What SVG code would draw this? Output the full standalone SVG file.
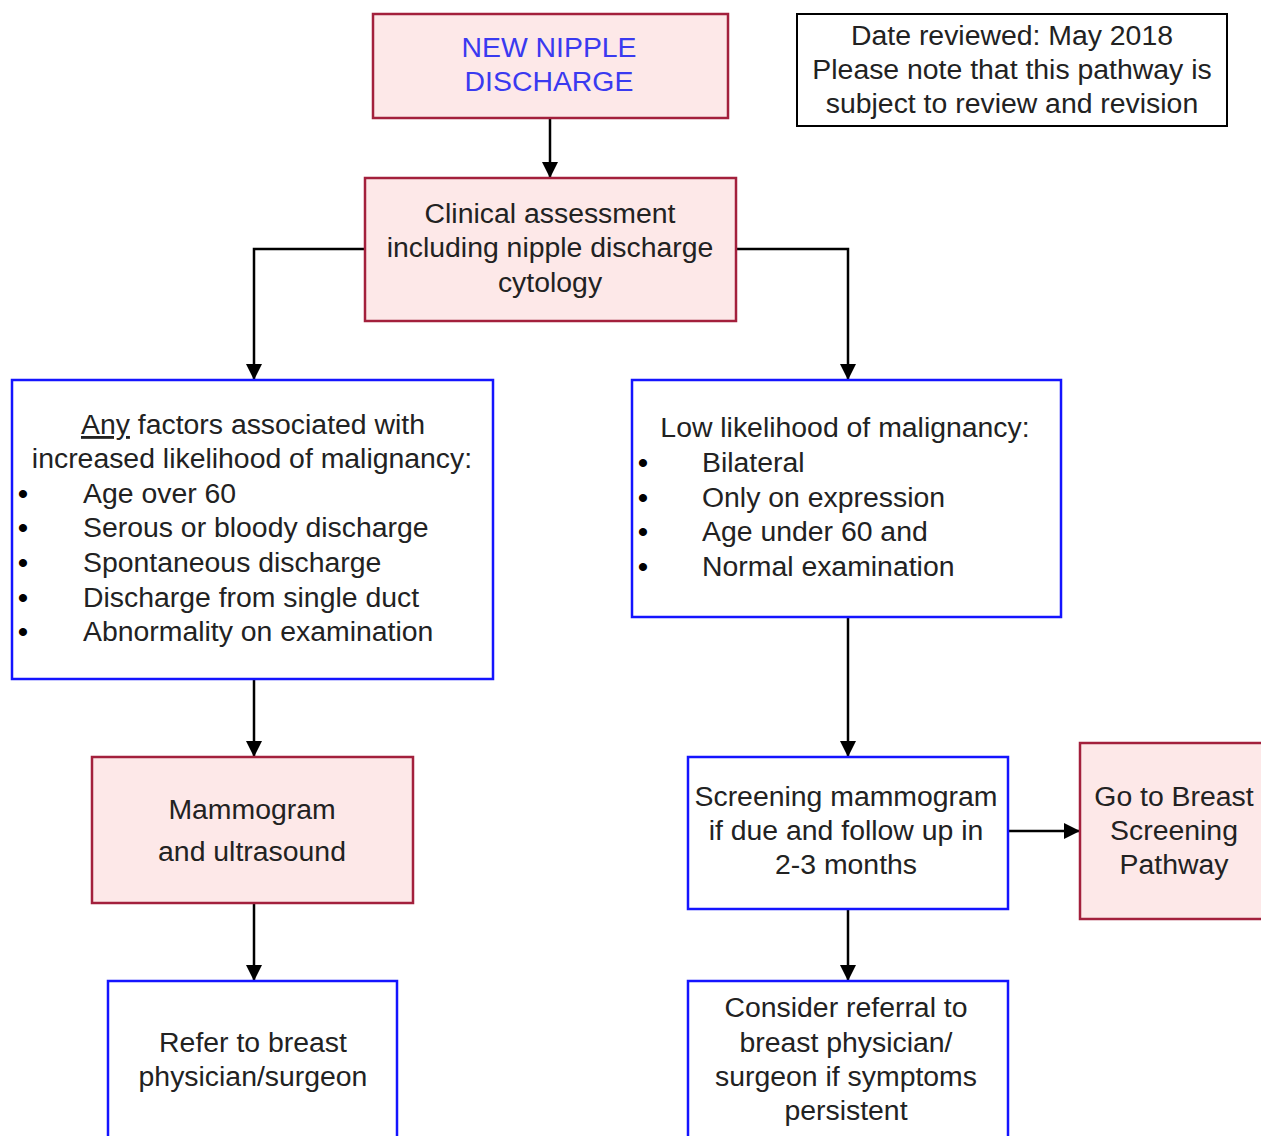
<svg xmlns="http://www.w3.org/2000/svg" width="1261" height="1136" viewBox="0 0 1261 1136">
<defs>
<marker id="ah" markerWidth="16" markerHeight="18" refX="15" refY="9" orient="auto" markerUnits="userSpaceOnUse">
<path d="M0,1 L16,9 L0,17 Z" fill="#000"/>
</marker>
<style>
.pink{fill:#fde8e8;stroke:#a3203c;stroke-width:2.5}
.blue{fill:#fff;stroke:#1414ff;stroke-width:2.5}
.black{fill:#fff;stroke:#000;stroke-width:2}
text{font-family:"Liberation Sans",Arial,sans-serif;font-size:28.4px;fill:#222}
.c{text-anchor:middle}
.title{fill:#3a3af0}
.b{font-weight:bold;fill:#000}
.conn{fill:none;stroke:#000;stroke-width:2.5;marker-end:url(#ah)}
</style>
</defs>
<rect width="1261" height="1136" fill="#fff"/>
<g id="connectors">
<path class="conn" d="M550,118 V177"/>
<path class="conn" d="M365,249 H254 V379"/>
<path class="conn" d="M736,249 H848 V379"/>
<path class="conn" d="M254,679 V756"/>
<path class="conn" d="M848,617 V756"/>
<path class="conn" d="M254,903 V980"/>
<path class="conn" d="M848,909 V980"/>
<path class="conn" d="M1008,831 H1079"/>
</g>
<g id="new-nipple-discharge">
<rect class="pink" x="373" y="14" width="355" height="104"/>
<text class="c title" x="549" y="57">NEW NIPPLE</text>
<text class="c title" x="549" y="91">DISCHARGE</text>
</g>
<g id="date-note">
<rect class="black" x="797" y="14" width="430" height="112"/>
<text class="c" x="1012" y="45">Date reviewed: May 2018</text>
<text class="c" x="1012" y="79">Please note that this pathway is</text>
<text class="c" x="1012" y="113">subject to review and revision</text>
</g>
<g id="clinical-assessment">
<rect class="pink" x="365" y="178" width="371" height="143"/>
<text class="c" x="550" y="223">Clinical assessment</text>
<text class="c" x="550" y="257">including nipple discharge</text>
<text class="c" x="550" y="292">cytology</text>
</g>
<g id="increased-likelihood">
<rect class="blue" x="12" y="380" width="481" height="299"/>
<text class="c" x="253" y="434"><tspan text-decoration="underline" style="text-decoration:underline">Any</tspan> factors associated with</text>
<text class="c" x="252" y="468">increased likelihood of malignancy:</text>
<text class="b" x="18" y="503">•</text><text x="83" y="503">Age over 60</text>
<text class="b" x="18" y="537">•</text><text x="83" y="537">Serous or bloody discharge</text>
<text class="b" x="18" y="572">•</text><text x="83" y="572">Spontaneous discharge</text>
<text class="b" x="18" y="607">•</text><text x="83" y="607">Discharge from single duct</text>
<text class="b" x="18" y="641">•</text><text x="83" y="641">Abnormality on examination</text>
</g>
<g id="low-likelihood">
<rect class="blue" x="632" y="380" width="429" height="237"/>
<text class="c" x="845" y="437">Low likelihood of malignancy:</text>
<text class="b" x="638" y="472">•</text><text x="702" y="472">Bilateral</text>
<text class="b" x="638" y="507">•</text><text x="702" y="507">Only on expression</text>
<text class="b" x="638" y="541">•</text><text x="702" y="541">Age under 60 and</text>
<text class="b" x="638" y="576">•</text><text x="702" y="576">Normal examination</text>
</g>
<g id="mammogram">
<rect class="pink" x="92" y="757" width="321" height="146"/>
<text class="c" x="252" y="819">Mammogram</text>
<text class="c" x="252" y="861">and ultrasound</text>
</g>
<g id="screening-mammogram">
<rect class="blue" x="688" y="757" width="320" height="152"/>
<text class="c" x="846" y="806">Screening mammogram</text>
<text class="c" x="846" y="840">if due and follow up in</text>
<text class="c" x="846" y="874">2-3 months</text>
</g>
<g id="breast-screening-pathway">
<rect class="pink" x="1080" y="743" width="200" height="176"/>
<text class="c" x="1174" y="806">Go to Breast</text>
<text class="c" x="1174" y="840">Screening</text>
<text class="c" x="1174" y="874">Pathway</text>
</g>
<g id="refer-physician">
<rect class="blue" x="108" y="981" width="289" height="180"/>
<text class="c" x="253" y="1052">Refer to breast</text>
<text class="c" x="253" y="1086">physician/surgeon</text>
</g>
<g id="consider-referral">
<rect class="blue" x="688" y="981" width="320" height="180"/>
<text class="c" x="846" y="1017">Consider referral to</text>
<text class="c" x="846" y="1052">breast physician/</text>
<text class="c" x="846" y="1086">surgeon if symptoms</text>
<text class="c" x="846" y="1120">persistent</text>
</g>
</svg>
